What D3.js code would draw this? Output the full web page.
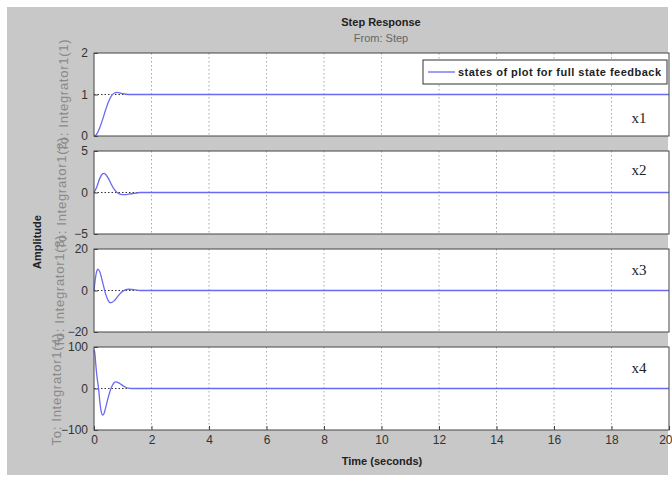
<!DOCTYPE html>
<html><head><meta charset="utf-8">
<script src="https://cdn.jsdelivr.net/npm/d3@7"></script>
<style>body{margin:0;background:#fff}svg{display:block}</style>
</head><body>
<svg id="c" width="672" height="478"></svg>
<script>
const xTicks = [0,2,4,6,8,10,12,14,16,18,20];
const panelNames = ["x1","x2","x3","x4"];
const yLabels = ["To: Integrator1(1)","To: Integrator1(2)","To: Integrator1(3)","To: Integrator1(4)"];
const yDomains = [[0,2],[-5,5],[-20,20],[-100,100]];
const yTickVals = [[0,1,2],[-5,0,5],[-20,0,20],[-100,0,100]];
const steady = [1,0,0,0];

const t1 = [0,0.05,0.1,0.2,0.3,0.4,0.5,0.6,0.7,0.8,0.9,1.0,1.2,1.5,2,20];
const x1 = [0,0.01,0.05,0.2,0.4,0.62,0.82,0.96,1.03,1.05,1.04,1.02,1.0,1.0,1.0,1.0];
const t2 = [0,0.1,0.2,0.3,0.35,0.4,0.5,0.6,0.7,0.8,0.9,1.0,1.1,1.2,1.4,1.6,2,20];
const x2 = [0,0.7,1.7,2.25,2.3,2.2,1.7,1.0,0.4,0.0,-0.2,-0.25,-0.25,-0.2,-0.1,0,0,0];
const t3 = [0,0.05,0.1,0.14,0.2,0.3,0.4,0.5,0.57,0.7,0.8,0.9,1.0,1.2,1.4,1.6,2,20];
const x3 = [0,6,9.5,10.3,9,4,-1.5,-5,-5.9,-5,-3.3,-1.6,-0.3,0.6,0.4,0,0,0];
const t4 = [0,0.03,0.06,0.1,0.16,0.2,0.25,0.3,0.35,0.4,0.5,0.6,0.7,0.75,0.8,0.9,1.0,1.1,1.2,1.3,1.5,2,20];
const x4 = [93,85,60,30,0,-30,-55,-64,-60,-48,-20,2,14,16,15.5,12,7,3,1,0,0,0,0];
const series = [[t1,x1],[t2,x2],[t3,x3],[t4,x4]];

const svg = d3.select("#c");
svg.append("rect").attr("x",7).attr("y",7).attr("width",661).attr("height",468).attr("fill","#c8c8c8");

const pLeft = 94, pRight = 669, pTop = 53, pBottom = 430, gap = 15;
const ph = (pBottom - pTop - 3*gap)/4;
const x = d3.scaleLinear().domain([0,20]).range([pLeft,pRight]);
const lineColor = "#6a6af2";
const sans = "Liberation Sans, Arial, sans-serif";
const nameOffset = [70,24,26,26];
const labelX = [68,66,64,61];

svg.append("text").attr("x",381).attr("y",26).attr("text-anchor","middle")
  .attr("font-family",sans).attr("font-size",11).attr("font-weight","bold").attr("fill","#222").text("Step Response");
svg.append("text").attr("x",381).attr("y",42).attr("text-anchor","middle")
  .attr("font-family",sans).attr("font-size",11).attr("fill","#666").text("From: Step");

series.forEach((s,i)=>{
  const y0 = pTop + i*(ph+gap);
  const y = d3.scaleLinear().domain(yDomains[i]).range([y0+ph,y0]);
  const g = svg.append("g");
  g.append("rect").attr("x",pLeft).attr("y",y0).attr("width",pRight-pLeft).attr("height",ph).attr("fill","#fff");
  g.selectAll(".gx").data(xTicks.slice(1,-1)).enter().append("line")
    .attr("x1",d=>x(d)).attr("x2",d=>x(d)).attr("y1",y0).attr("y2",y0+ph)
    .attr("stroke","#a8a8a8").attr("stroke-dasharray","1.5,2.5").attr("stroke-width",1);
  g.append("line").attr("x1",pLeft).attr("x2",pRight).attr("y1",y(steady[i])).attr("y2",y(steady[i]))
    .attr("stroke","#333").attr("stroke-dasharray","1.5,2").attr("stroke-width",1);
  const pts = s[0].map((t,k)=>[t,s[1][k]]);
  g.append("path").datum(pts).attr("fill","none").attr("stroke",lineColor).attr("stroke-width",1.3)
    .attr("d",d3.line().x(d=>x(d[0])).y(d=>y(d[1])).curve(d3.curveMonotoneX));
  g.append("rect").attr("x",pLeft).attr("y",y0).attr("width",pRight-pLeft).attr("height",ph)
    .attr("fill","none").attr("stroke","#444").attr("stroke-width",1);
  const ya = g.append("g").attr("transform",`translate(${pLeft},0)`)
    .call(d3.axisLeft(y).tickValues(yTickVals[i]).tickSize(-4).tickPadding(6).tickFormat(d3.format("d")));
  ya.select(".domain").remove();
  ya.selectAll("line").attr("stroke","#444");
  ya.selectAll("text").attr("font-family",sans).attr("font-size",12).attr("fill","#333");
  g.append("text").attr("x",639).attr("y",y0+nameOffset[i]).attr("text-anchor","middle")
    .attr("font-family","Liberation Serif, Times New Roman, serif").attr("font-size",15).attr("fill","#222").text(panelNames[i]);
  g.append("text").attr("transform",`translate(${labelX[i]},${y0+ph/2+1}) rotate(-90)`).attr("text-anchor","middle")
    .attr("font-family",sans).attr("font-size",13).attr("textLength",112).attr("fill","#8a8a8a").text(yLabels[i]);
  if(i===3){
    const xa = g.append("g").attr("transform",`translate(0,${y0+ph})`)
      .call(d3.axisBottom(x).tickValues(xTicks).tickSize(-4).tickPadding(5).tickFormat(d3.format("d")));
    xa.select(".domain").remove();
    xa.selectAll("line").attr("stroke","#444");
    xa.selectAll("text").attr("font-family",sans).attr("font-size",12).attr("fill","#333")
      .attr("text-anchor",d=>d===20?"end":"middle").attr("dx",d=>d===20?"3":"0");
  }
});

svg.append("text").attr("transform","translate(41,242) rotate(-90)").attr("text-anchor","middle")
  .attr("font-family",sans).attr("font-size",11).attr("font-weight","bold").attr("fill","#222").text("Amplitude");
svg.append("text").attr("x",382).attr("y",465).attr("text-anchor","middle")
  .attr("font-family",sans).attr("font-size",11).attr("font-weight","bold").attr("fill","#222").text("Time (seconds)");

const lg = svg.append("g");
lg.append("rect").attr("x",423).attr("y",60).attr("width",244).attr("height",24).attr("fill","#fff").attr("stroke","#333");
lg.append("line").attr("x1",428).attr("x2",455).attr("y1",72).attr("y2",72).attr("stroke",lineColor).attr("stroke-width",1.3);
lg.append("text").attr("x",458).attr("y",76).attr("font-family",sans).attr("font-size",11)
  .attr("font-weight","bold").attr("fill","#222").attr("textLength",203).text("states of plot for full state feedback");
</script>
</body></html>
